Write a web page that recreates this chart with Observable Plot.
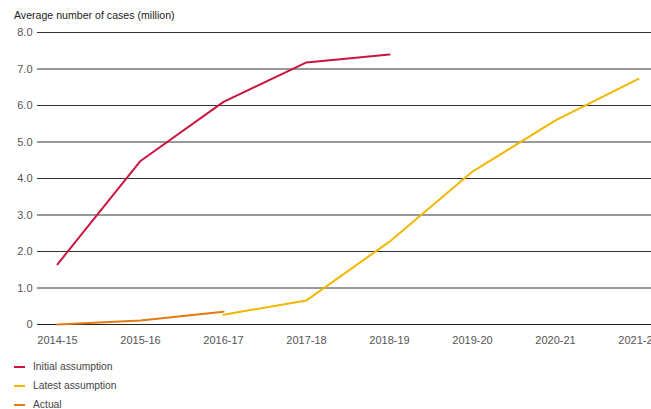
<!DOCTYPE html>
<html><head><meta charset="utf-8">
<script src="https://cdn.jsdelivr.net/npm/d3@7"></script>
<script src="https://cdn.jsdelivr.net/npm/@observablehq/plot@0.6"></script>
<style>
html,body{margin:0;padding:0;background:#fff;overflow:hidden;width:651px;height:409px;}
body{font-family:"Liberation Sans",Arial,sans-serif;}
#title{font-size:10.6px;color:#222;padding:9px 0 0 14px;height:15px;line-height:12px;}
#legend{font-size:10.3px;color:#444;padding-left:14px;margin-top:3px;}
.item{height:19px;display:flex;align-items:center;}
.sw{width:11px;height:2px;margin-right:8px;}
</style></head><body>
<div id="title">Average number of cases (million)</div>
<div id="chart"></div>
<div id="legend"></div>
<script>
const years = ["2014-15","2015-16","2016-17","2017-18","2018-19","2019-20","2020-21","2021-22"];
const yTicks = [0,1,2,3,4,5,6,7,8];
const initialYears = ["2014-15","2015-16","2016-17","2017-18","2018-19"];
const initialValues = [1.65,4.48,6.1,7.18,7.4];
const latestYears = ["2016-17","2017-18","2018-19","2019-20","2020-21","2021-22"];
const latestValues = [0.27,0.66,2.27,4.19,5.59,6.73];
const actualYears = ["2014-15","2015-16","2016-17"];
const actualValues = [0,0.11,0.35];
const seriesNames = ["Initial assumption","Latest assumption","Actual"];
const seriesColors = ["#c8163f","#f0b800","#e47a12"];

const rows = (ys, vs, s) => ys.map((y,i)=>({year:y, value:vs[i], series:s}));
const initial = rows(initialYears, initialValues, seriesNames[0]);
const latest = rows(latestYears, latestValues, seriesNames[1]);
const actual = rows(actualYears, actualValues, seriesNames[2]);

const plot = Plot.plot({
  width: 651, height: 330,
  marginLeft: 37, marginRight: 0, marginTop: 8, marginBottom: 30,
  style: {fontFamily: "Liberation Sans, Arial, sans-serif", fontSize: "11px", color: "#555", background: "#fff"},
  x: {type: "point", domain: years, range: [56, 639], padding: 0, label: null},
  y: {domain: [0, 8], label: null},
  marks: [
    Plot.ruleY(yTicks, {stroke: d => d === 0 ? "#222" : "#333", strokeWidth: 1, strokeOpacity: 1}),
    Plot.axisY(yTicks, {tickSize: 0, tickPadding: 5, tickFormat: d => d === 0 ? "0" : d.toFixed(1), fill: "#555", fontSize: 11}),
    Plot.axisX(years, {tickSize: 0, tickPadding: 12, fill: "#555", fontSize: 11}),
    Plot.line(initial, {x: "year", y: "value", stroke: seriesColors[0], strokeWidth: 2}),
    Plot.line(latest, {x: "year", y: "value", stroke: seriesColors[1], strokeWidth: 2}),
    Plot.line(actual, {x: "year", y: "value", stroke: seriesColors[2], strokeWidth: 2})
  ]
});
document.getElementById("chart").appendChild(plot);
const lg = document.getElementById("legend");
seriesNames.forEach((n,i)=>{
  const d = document.createElement("div"); d.className="item";
  d.innerHTML = `<span class="sw" style="background:${seriesColors[i]}"></span><span>${n}</span>`;
  lg.appendChild(d);
});
</script>
</body></html>
